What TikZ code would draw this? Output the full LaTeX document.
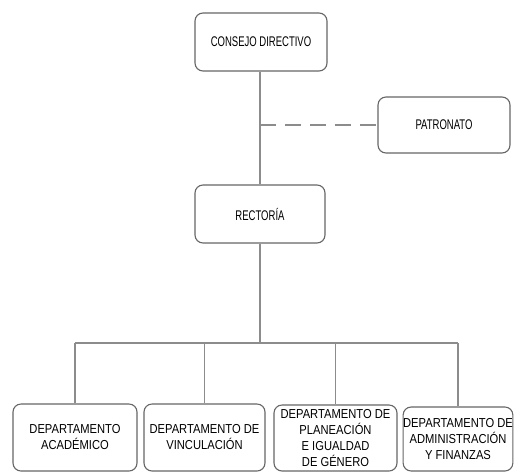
\documentclass[tikz,border=0pt]{standalone}
\usepackage{fontspec}
\setmainfont[FakeStretch=0.68]{Liberation Sans}
\newfontfamily\widerfont[FakeStretch=0.86]{Liberation Sans}
\begin{document}
\begin{tikzpicture}[x=1pt,y=-1pt,
  box/.style={draw=black!60, line width=1.1pt, rounded corners=8pt, fill=white,
    align=center, text=black, font=\fontsize{14}{16}\selectfont, inner sep=0pt},
  dbox/.style={box, font=\widerfont\fontsize{13}{16}\selectfont},
  conn/.style={draw=black!45, line width=1.4pt},
  dconn/.style={draw=black!45, line width=1.4pt, dash pattern=on 16pt off 9pt}]
\useasboundingbox (0,0) rectangle (518,472);
\node[box, minimum width=132pt, minimum height=58pt] (cd) at (261,42) {CONSEJO DIRECTIVO};
\node[box, minimum width=132pt, minimum height=56pt] (pat) at (444,125) {PATRONATO};
\node[box, minimum width=130pt, minimum height=58pt] (rec) at (260,214) {RECTORÍA};
\node[dbox, minimum width=124pt, minimum height=67pt] (d1) at (75,437.5) {DEPARTAMENTO\\ACADÉMICO};
\node[dbox, minimum width=121pt, minimum height=67pt] (d2) at (204.5,437.5) {DEPARTAMENTO DE\\VINCULACIÓN};
\node[dbox, minimum width=123pt, minimum height=66pt] (d3) at (335.5,438) {DEPARTAMENTO DE\\PLANEACIÓN\\E IGUALDAD\\DE GÉNERO};
\node[dbox, minimum width=104pt, minimum height=64pt] (d4) at (458,439) {DEPARTAMENTO DE\\ADMINISTRACIÓN\\Y FINANZAS};
\coordinate (dj) at (260,125);
\coordinate (bus) at (260,343);
\draw[conn] (cd.south -| dj) -- (rec.north -| dj);
\draw[dconn] (dj) -- (pat.west);
\draw[conn] (rec.south) -- (bus);
\draw[conn] (bus -| d1.north) -- (bus -| d4.north);
\draw[conn] (bus -| d1.north) -- (d1.north);
\draw[conn] (bus -| d2.north) -- (d2.north);
\draw[conn] (bus -| d3.north) -- (d3.north);
\draw[conn] (bus -| d4.north) -- (d4.north);
\end{tikzpicture}
\end{document}
